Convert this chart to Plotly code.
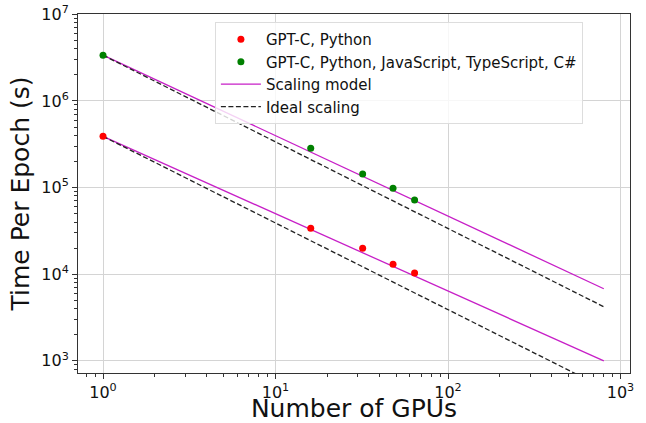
import plotly.graph_objects as go

gpus = [1, 16, 32, 48, 64]
python_time = [3.9e5, 3.4e4, 2.0e4, 1.3e4, 1.03e4]
multi_time = [3.37e6, 2.85e5, 1.43e5, 9.8e4, 7.2e4]

line_x = [1, 800]
python_model = [3.9e5, 1.0e3]
multi_model = [3.37e6, 6.8e3]
python_ideal = [3.9e5, 3.9e5 / 800]
multi_ideal = [3.37e6, 3.37e6 / 800]

MAG = "#c71fc7"
DASH = "5px,2.5px"
fig = go.Figure()
fig.add_trace(go.Scatter(x=line_x, y=python_model, mode="lines", line=dict(color=MAG, width=1.3),
                         name="Scaling model", legendgroup="m", showlegend=False, legendrank=3))
fig.add_trace(go.Scatter(x=line_x, y=multi_model, mode="lines", line=dict(color=MAG, width=1.3),
                         name="Scaling model", legendgroup="m", showlegend=True, legendrank=3))
fig.add_trace(go.Scatter(x=line_x, y=python_ideal, mode="lines", line=dict(color="#222222", width=1.3, dash=DASH),
                         name="Ideal scaling", legendgroup="i", showlegend=False, legendrank=4))
fig.add_trace(go.Scatter(x=line_x, y=multi_ideal, mode="lines", line=dict(color="#222222", width=1.3, dash=DASH),
                         name="Ideal scaling", legendgroup="i", showlegend=True, legendrank=4))
fig.add_trace(go.Scatter(x=gpus, y=python_time, mode="markers", marker=dict(color="red", size=7),
                         name="GPT-C, Python", legendrank=1))
fig.add_trace(go.Scatter(x=gpus, y=multi_time, mode="markers", marker=dict(color="green", size=7),
                         name="GPT-C, Python, JavaScript, TypeScript, C#", legendrank=2))

xt = [1, 10, 100, 1000]
yt = [1e3, 1e4, 1e5, 1e6, 1e7]
x_minor = [m * 10 ** e for e in range(-1, 3) for m in range(2, 10)]
y_minor = [m * 10 ** e for e in range(2, 7) for m in range(2, 10)]

common = dict(type="log", showgrid=True, gridcolor="#d4d4d4", gridwidth=1, zeroline=False,
              showline=True, linecolor="#333333", linewidth=1, mirror=True,
              ticks="outside", ticklen=5, tickcolor="#333333", automargin=False,
              ticklabeloverflow="allow", tickfont=dict(size=16, color="#111111"))
fig.update_xaxes(range=[-0.145, 3.055], tickvals=xt,
                 ticktext=["10<sup>0</sup>", "10<sup>1</sup>", "10<sup>2</sup>", "10<sup>3</sup>"],
                 minor=dict(tickmode="array", tickvals=x_minor, ticks="outside", ticklen=3,
                            tickcolor="#333333", showgrid=False),
                 title=dict(text="Number of GPUs", font=dict(size=25, color="#111111"), standoff=7),
                 **common)
fig.update_yaxes(range=[2.86, 7.003], tickvals=yt,
                 ticktext=["10<sup>3</sup>", "10<sup>4</sup>", "10<sup>5</sup>", "10<sup>6</sup>", "10<sup>7</sup>"],
                 minor=dict(tickmode="array", tickvals=y_minor, ticks="outside", ticklen=3,
                            tickcolor="#333333", showgrid=False),
                 title=dict(text="Time Per Epoch (s)", font=dict(size=25, color="#111111"), standoff=4),
                 **common)
fig.update_layout(
    width=646, height=423,
    margin=dict(l=78, r=16, t=14, b=50),
    paper_bgcolor="white", plot_bgcolor="white",
    font=dict(family="DejaVu Sans", color="#111111"),
    legend=dict(x=0.248, y=0.978, xanchor="left", yanchor="top",
                bgcolor="rgba(255,255,255,0.8)", bordercolor="#dddddd", borderwidth=1,
                font=dict(size=15), tracegroupgap=0, itemwidth=40),
)
fig.write_html("out.html", config={"displayModeBar": False},
               post_script="document.body.style.margin='0';")
